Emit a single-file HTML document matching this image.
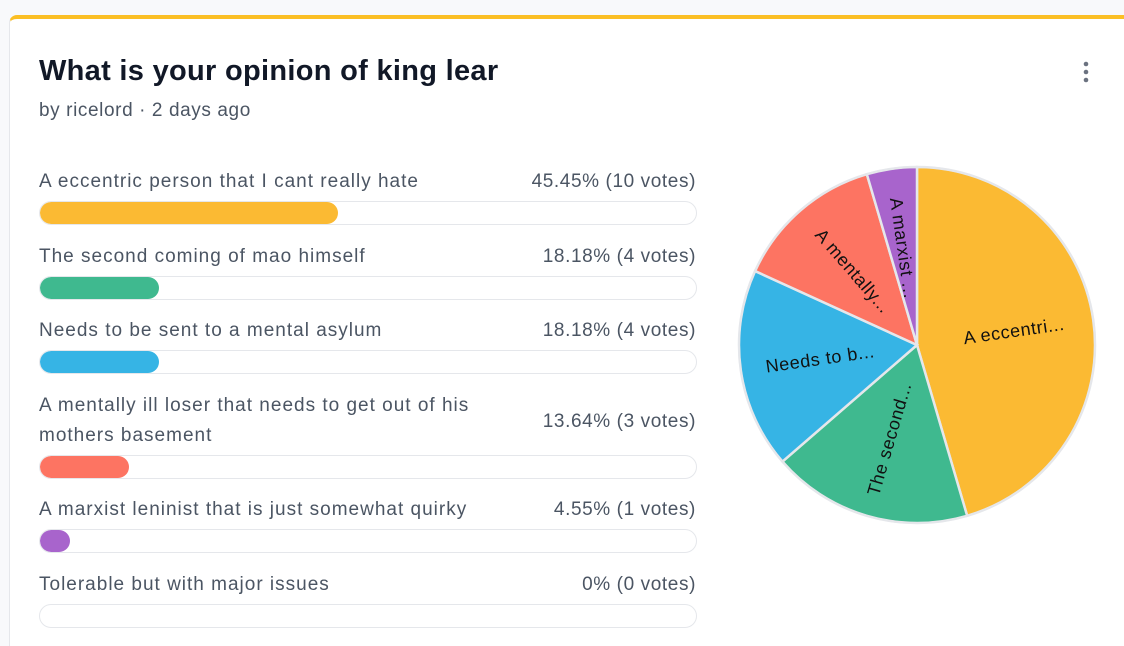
<!DOCTYPE html>
<html><head><meta charset="utf-8"><style>
html,body{margin:0;width:1124px;height:646px;overflow:hidden}
body{background:#f8f9fb;font-family:"Liberation Sans",sans-serif;position:relative}
.card{position:absolute;left:9px;top:15px;width:1115px;height:631px;box-sizing:border-box;background:#fff;border-top:4px solid #fbbf24;border-left:1px solid #e5e7eb;border-radius:8px 0 0 0}
.t{position:absolute;left:39px;top:55px;font-size:29px;font-weight:bold;color:#111827;letter-spacing:0.3px}
.s{position:absolute;left:39px;top:100px;font-size:19px;color:#4b5563;letter-spacing:0.6px}
.lab{position:absolute;left:39px;width:470px;font-size:19px;color:#4b5563;line-height:30px;letter-spacing:1px}
.pct{position:absolute;right:428px;font-size:19px;color:#4b5563;letter-spacing:0.6px}
.bar{position:absolute;left:39px;width:656px;height:22px;border:1px solid #e5e7eb;border-radius:12px;overflow:hidden}
.fill{height:100%;border-radius:12px}
</style></head><body>
<div class="card"></div>
<div class="t">What is your opinion of king lear</div>
<div class="s">by ricelord · 2 days ago</div>
<svg style="position:absolute;left:1080px;top:60px" width="12" height="24"><circle cx="6" cy="4" r="2.3" fill="#6b7280"/><circle cx="6" cy="12" r="2.3" fill="#6b7280"/><circle cx="6" cy="20" r="2.3" fill="#6b7280"/></svg>
<div id="rows"></div>
<svg id="pie" style="position:absolute;left:0;top:0" width="1124" height="646"></svg>
<script>
const labels=["A eccentric person that I cant really hate","The second coming of mao himself","Needs to be sent to a mental asylum","A mentally ill loser that needs to get out of his mothers basement","A marxist leninist that is just somewhat quirky","Tolerable but with major issues"];
const short=["A eccentri...","The second...","Needs to b...","A mentally...","A marxist ..."," "];
const votes=[10,4,4,3,1,0];
const colors=["#fbba33","#3fb98f","#36b4e5","#fd7462","#a864cc","#cccccc"];
const labelTops=[167,242,316,391,495,570];
const barTops=[201,276,350,455,529,604];
const total=votes.reduce((a,b)=>a+b,0);
const rows=document.getElementById('rows');
votes.forEach((v,i)=>{
 const p=v/total*100;
 const pt=(Math.round(p*100)/100)+'%';
 const l=document.createElement('div');l.className='lab';l.style.top=labelTops[i]+'px';l.textContent=labels[i];
 
 
 rows.appendChild(l);
 const c=document.createElement('div');c.className='pct';
 c.style.top=(i==3?labelTops[i]+20:labelTops[i]+4)+'px';
 c.textContent=pt+' ('+v+' votes)';
 
 
 rows.appendChild(c);
 const b=document.createElement('div');b.className='bar';b.style.top=barTops[i]+'px';
 
 
 const f=document.createElement('div');f.className='fill';f.style.width=p+'%';f.style.background=colors[i];
 
 
 b.appendChild(f);rows.appendChild(b);
});
const svg=document.getElementById('pie'),NS='http://www.w3.org/2000/svg';
const cx=917,cy=345,R=178;
function pt(a,r){return [cx+r*Math.sin(a),cy-r*Math.cos(a)];}
let a0=0;
votes.forEach((v,i)=>{
 if(!v)return;
 const a1=a0+v/total*2*Math.PI;
 const p0=pt(a0,R),p1=pt(a1,R);
 const path=document.createElementNS(NS,'path');
 path.setAttribute('d',`M${cx},${cy}L${p0[0]},${p0[1]}A${R},${R} 0 ${a1-a0>Math.PI?1:0} 1 ${p1[0]},${p1[1]}Z`);
 path.setAttribute('fill',colors[i]);path.setAttribute('stroke','#e5e7eb');path.setAttribute('stroke-width','2.5');
 
 
 svg.appendChild(path);
 const m=(a0+a1)/2,lp=pt(m,R*0.55);
 let deg=m*180/Math.PI-90;if(deg>90)deg-=180;
 const t=document.createElementNS(NS,'text');
 t.setAttribute('x',lp[0]);t.setAttribute('y',lp[1]);t.setAttribute('text-anchor','middle');t.setAttribute('dominant-baseline','central');
 t.setAttribute('font-size','18');t.setAttribute('letter-spacing','0.6');t.setAttribute('fill','#111');t.setAttribute('font-family','Liberation Sans, sans-serif');
 t.setAttribute('transform',`rotate(${deg} ${lp[0]} ${lp[1]})`);
 t.textContent=short[i];
 
 
 svg.appendChild(t);
 a0=a1;
});
const ring=document.createElementNS(NS,'circle');
ring.setAttribute('cx',cx);ring.setAttribute('cy',cy);ring.setAttribute('r',R);ring.setAttribute('fill','none');ring.setAttribute('stroke','#e5e7eb');ring.setAttribute('stroke-width','2');


svg.appendChild(ring);
</script>
</body></html>
